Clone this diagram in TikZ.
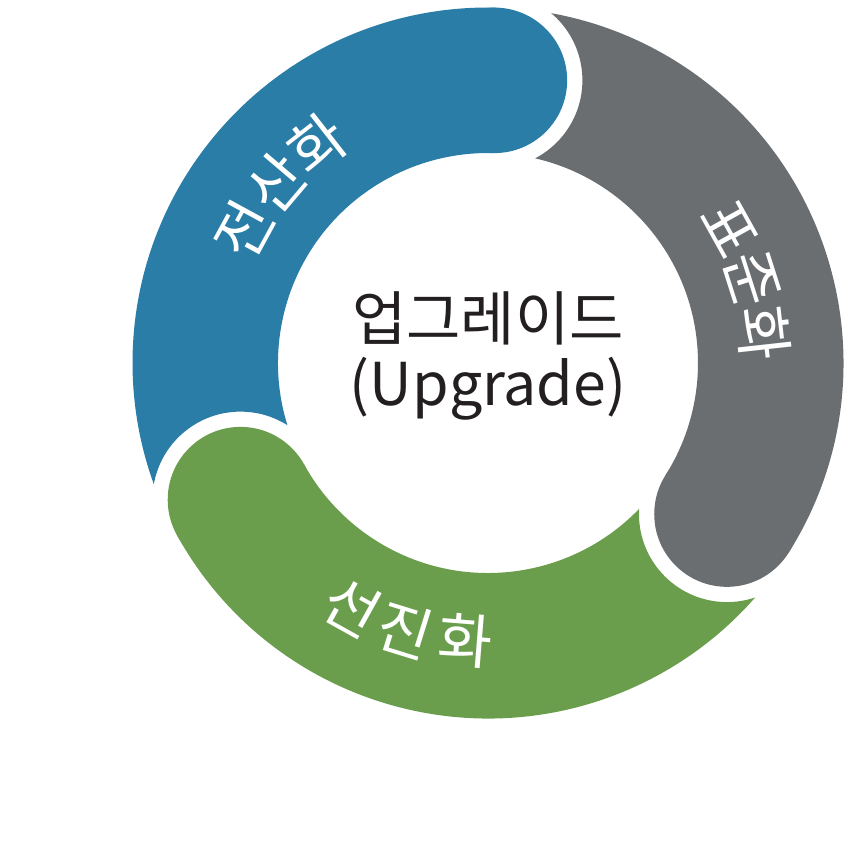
\documentclass[tikz,border=0pt]{standalone}
\usepackage{fontspec}
\setmainfont{Noto Sans CJK KR}
\usepackage{xcolor}
\usepackage{tikz}

\definecolor{SegBlue}{RGB}{42,125,166}
\definecolor{SegGray}{RGB}{106,110,113}
\definecolor{SegGreen}{RGB}{106,158,76}
\definecolor{CoreText}{RGB}{35,31,32}

\tikzset{
    ringlabel/.style={text=white, font=\fontsize{16.8}{18}\selectfont, inner sep=0pt},
    coretext/.style={text=CoreText, font=\fontsize{16.8}{18.4}\selectfont, align=center},
}

\begin{document}
\begin{tikzpicture}
            % Setup and bounding box
            \useasboundingbox (-4.88,-5.00) rectangle (3.62,3.63);

            % Ring segments: body cut around the previous head, then the round head
            \foreach \col/\from/\to in {SegBlue/88.7/208.9, SegGray/-32.3/88.7, SegGreen/-151.1/-32.3}
            {
                \begin{scope}[even odd rule]
                    \clip (-5,-5) rectangle (5,5) (\to:2.8275) circle (0.88);
                    \fill [\col] (\from:3.555) arc (\from:\to:3.555) -- (\to:2.1) arc (\to:\from:2.1) -- cycle;
                \end{scope}
                \fill [\col] (\from:2.8275) circle (0.7275);
            }

            % Center
            \node (core) at (0,0.07) [coretext] {업그레이드\\(Upgrade)};

            % 전산화
            \foreach \ch/\a [count=\i] in {전/151.4, 산/139.7, 화/128.0}
                \node (jeonsan\i) at (\a:2.78) [ringlabel, rotate=\a-90] {\ch};

            % 표준화
            \foreach \ch/\a [count=\i] in {표/29.1, 준/17.7, 화/6.3}
                \node (pyojun\i) at (\a:2.77) [ringlabel, rotate=\a-90] {\ch};

            % 선진화
            \foreach \ch/\a [count=\i] in {선/-119.1, 진/-107.2, 화/-94.6}
                \node (seonjin\i) at (\a:2.79) [ringlabel, rotate=\a+90] {\ch};
\end{tikzpicture}
\end{document}
